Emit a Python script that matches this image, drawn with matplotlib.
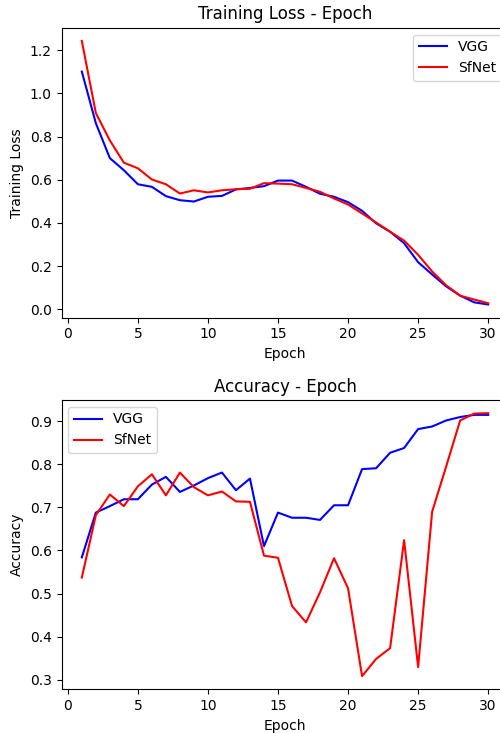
import numpy as np
import matplotlib
matplotlib.use('Agg')
import matplotlib.pyplot as plt

# epochs 1..30
epochs = list(range(1, 31))

# training loss per epoch
vgg_loss = [1.101, 0.862, 0.700, 0.644, 0.579, 0.567, 0.524, 0.505, 0.499, 0.521,
            0.525, 0.555, 0.562, 0.570, 0.596, 0.596, 0.567, 0.535, 0.521, 0.496,
            0.456, 0.398, 0.359, 0.306, 0.218, 0.161, 0.106, 0.063, 0.032, 0.022]
sfnet_loss = [1.243, 0.909, 0.782, 0.679, 0.653, 0.601, 0.579, 0.536, 0.551, 0.541,
              0.551, 0.556, 0.558, 0.584, 0.582, 0.579, 0.562, 0.544, 0.513, 0.485,
              0.444, 0.402, 0.359, 0.318, 0.252, 0.175, 0.111, 0.063, 0.045, 0.028]

# accuracy per epoch
vgg_acc = [0.584, 0.688, 0.703, 0.719, 0.719, 0.753, 0.771, 0.736, 0.751, 0.768,
           0.781, 0.740, 0.767, 0.610, 0.688, 0.676, 0.676, 0.671, 0.705, 0.705,
           0.789, 0.791, 0.827, 0.838, 0.882, 0.888, 0.902, 0.910, 0.915, 0.915]
sfnet_acc = [0.537, 0.682, 0.730, 0.703, 0.749, 0.777, 0.728, 0.781, 0.747, 0.728,
             0.737, 0.714, 0.713, 0.588, 0.583, 0.471, 0.433, 0.503, 0.582, 0.512,
             0.308, 0.348, 0.373, 0.624, 0.329, 0.690, 0.795, 0.902, 0.918, 0.919]

fig = plt.figure(figsize=(5, 7.33), dpi=100)

# axes run a little past the right edge of the image, as in the original crop
ax1 = fig.add_axes([0.123, 0.5666, 0.894, 0.3956])
ax1.plot(epochs, vgg_loss, 'b', label='VGG', linewidth=1.5)
ax1.plot(epochs, sfnet_loss, 'r', label='SfNet', linewidth=1.5)
ax1.set_title('Training Loss - Epoch')
ax1.set_xlabel('Epoch')
ax1.set_ylabel('Training Loss')
ax1.legend(loc='upper right')

ax2 = fig.add_axes([0.123, 0.0596, 0.894, 0.3947])
ax2.plot(epochs, vgg_acc, 'b', label='VGG', linewidth=1.5)
ax2.plot(epochs, sfnet_acc, 'r', label='SfNet', linewidth=1.5)
ax2.set_title('Accuracy - Epoch')
ax2.set_xlabel('Epoch')
ax2.set_ylabel('Accuracy')
ax2.legend(loc='upper left')

fig.savefig('out.png', dpi=100)
plt.close(fig)
